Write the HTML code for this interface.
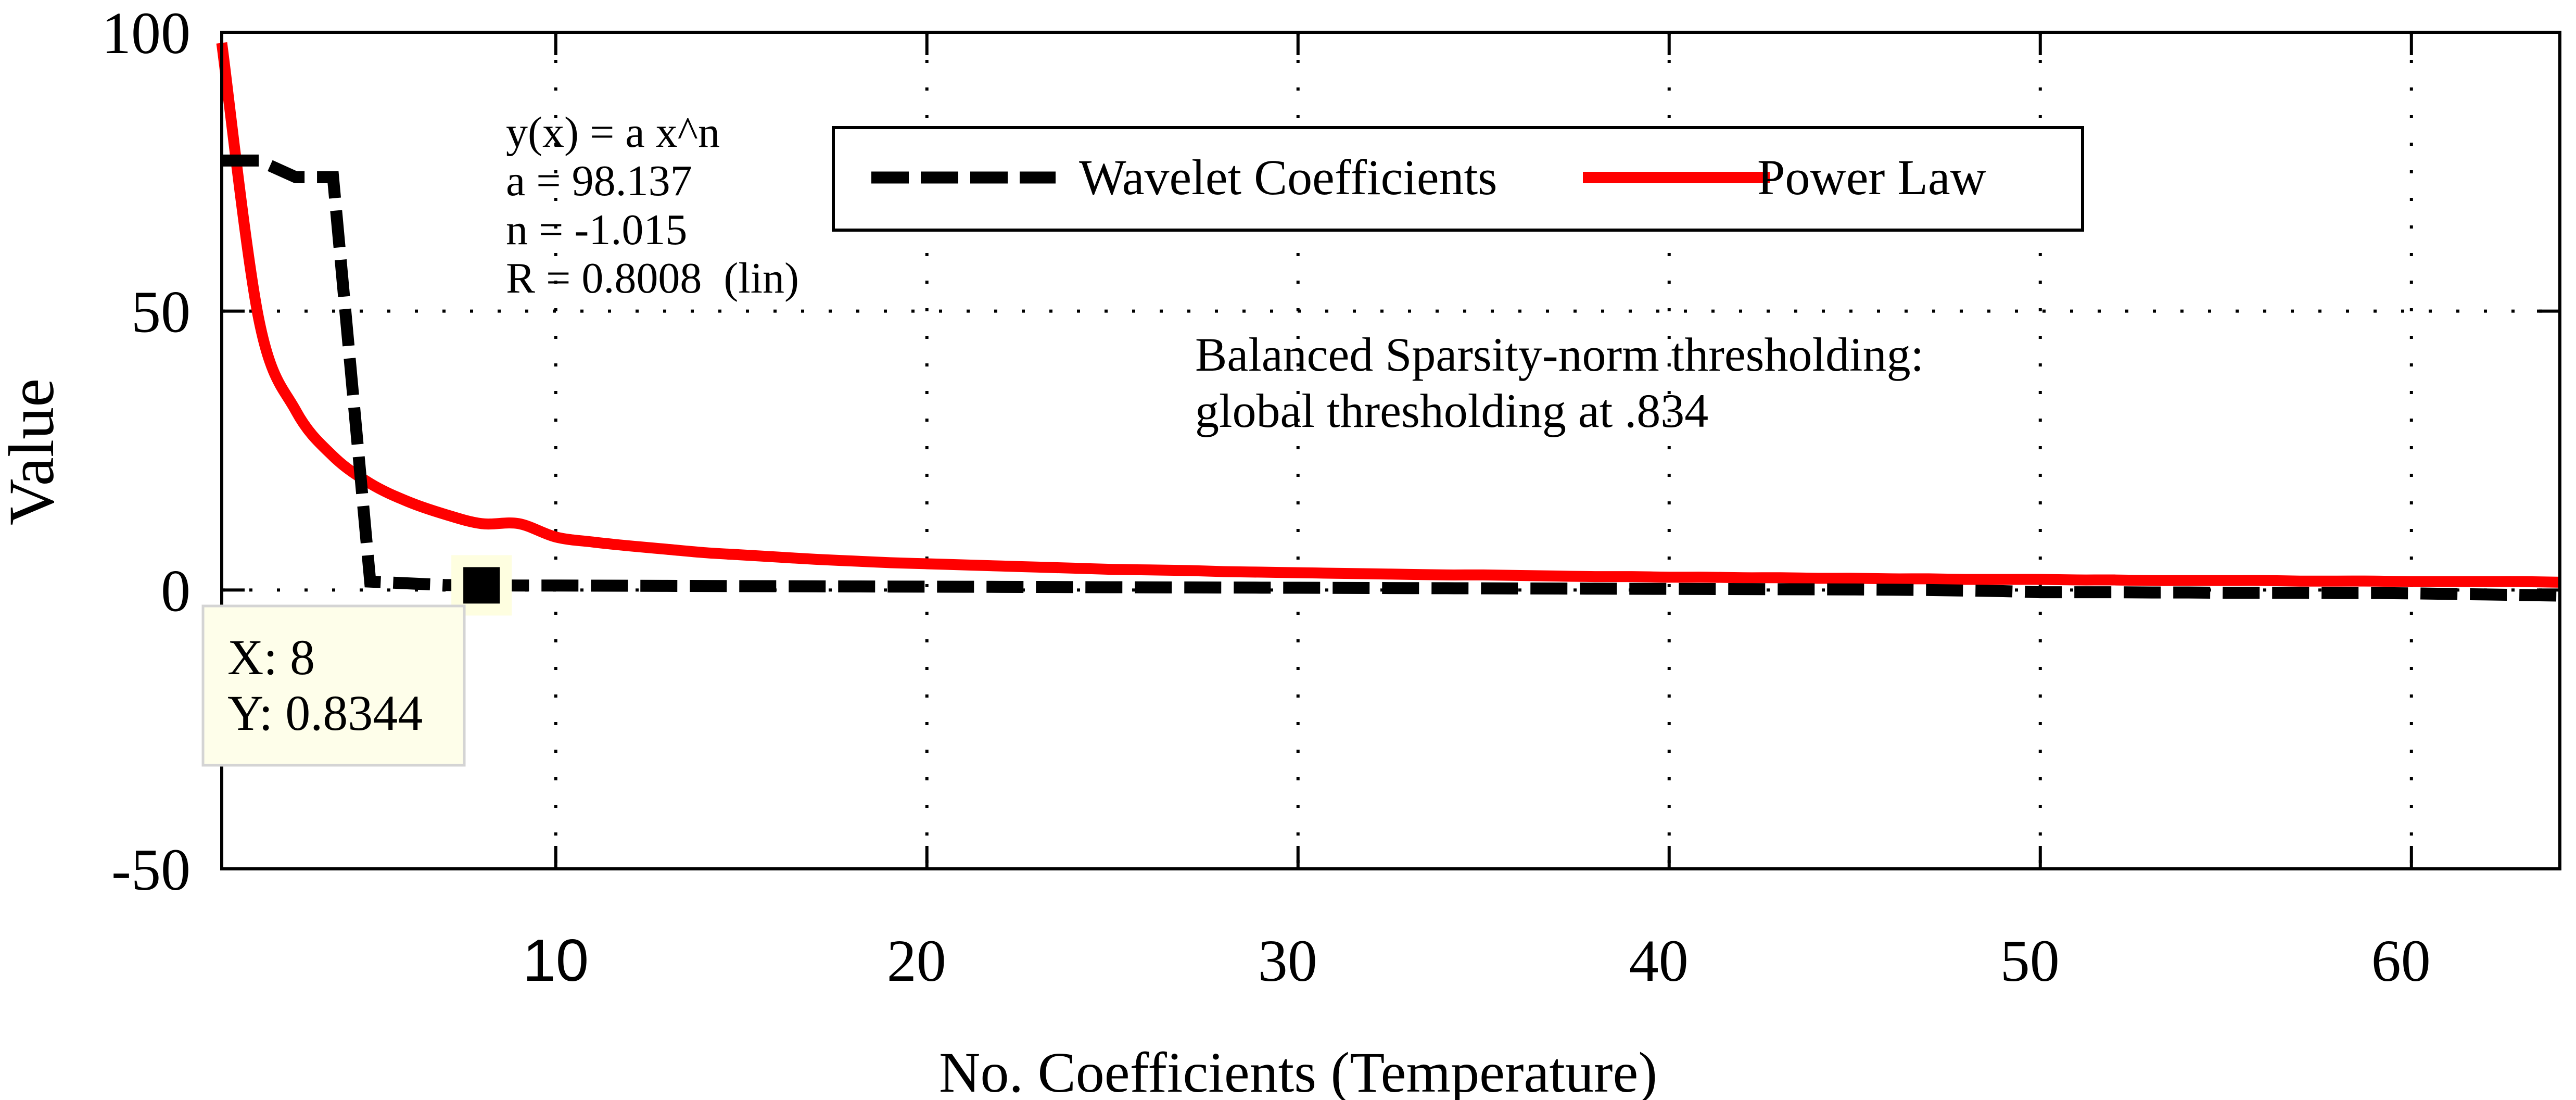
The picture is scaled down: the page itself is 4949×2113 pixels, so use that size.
<!DOCTYPE html>
<html><head><meta charset="utf-8"><style>
html,body{margin:0;padding:0;background:#fff;}
svg{display:block;}
text{font-family:"Liberation Serif",serif;fill:#000;white-space:pre;}
</style></head><body>
<svg id="chart" width="4949" height="2113" viewBox="0 0 4949 2113" xmlns="http://www.w3.org/2000/svg" xml:space="preserve">
<rect x="0" y="0" width="4949" height="2113" fill="#fff"/>
<g id="grid"></g>
<g id="series"></g>
<g id="axes"></g>
<text x="2494" y="2097" font-size="110" text-anchor="middle">No. Coefficients (Temperature)</text>
<text transform="translate(102,868) rotate(-90)" font-size="124" text-anchor="middle">Value</text>
<g font-size="84">
<text x="972" y="282">y(x) = a x^n</text>
<text x="972" y="375">a = 98.137</text>
<text x="972" y="469">n = -1.015</text>
<text x="972" y="562">R = 0.8008  (lin)</text>
</g>
<g font-size="92">
<text x="2296" y="712">Balanced Sparsity-norm thresholding:</text>
<text x="2296" y="820">global thresholding at .834</text>
</g>
<g>
<rect x="1601" y="245" width="2400" height="197" fill="#fff" stroke="#000" stroke-width="6"/>
<line x1="1674" y1="341" x2="2028" y2="341" stroke="#000" stroke-width="23" stroke-dasharray="72 23"/>
<text x="2073" y="373" font-size="96">Wavelet Coefficients</text>
<line x1="3041" y1="341" x2="3400" y2="341" stroke="#f00" stroke-width="22"/>
<text x="3376" y="373" font-size="96">Power Law</text>
</g>
<g id="tip">
<rect x="390" y="1164" width="502" height="306" fill="#fefeea" stroke="#d4d4d4" stroke-width="5"/>
<text x="437" y="1295" font-size="96">X: 8</text>
<text x="437" y="1402" font-size="96">Y: 0.8344</text>
</g>
</svg>
<script>
const xs = [1,2,3,4,5,6,7,8,9,10,11,12,13,14,15,16,17,18,19,20,21,22,23,24,25,26,27,28,29,30,31,32,33,34,35,36,37,38,39,40,41,42,43,44,45,46,47,48,49,50,51,52,53,54,55,56,57,58,59,60,61,62,63,64];
const wavelet = [77,77,74,74,1.5,1.2,0.9,0.83,0.8,0.8,0.78,0.76,0.74,0.72,0.7,0.68,0.66,0.64,0.62,0.6,0.58,0.56,0.54,0.52,0.5,0.48,0.46,0.44,0.42,0.4,0.38,0.36,0.34,0.32,0.3,0.28,0.26,0.24,0.22,0.2,0.18,0.16,0.14,0.12,0.1,0.05,0,-0.1,-0.2,-0.4,-0.4,-0.4,-0.45,-0.45,-0.5,-0.5,-0.5,-0.55,-0.55,-0.6,-0.7,-0.8,-0.9,-1.0];
const powerLaw = [98.1,48.5,32.1,24.0,19.1,15.9,13.6,11.9,11.9,9.5,8.6,7.9,7.3,6.7,6.3,5.9,5.5,5.2,4.9,4.7,4.5,4.3,4.1,3.9,3.7,3.6,3.5,3.3,3.2,3.1,3.0,2.9,2.8,2.7,2.7,2.6,2.5,2.4,2.4,2.3,2.3,2.2,2.2,2.1,2.1,2.0,2.0,1.9,1.9,1.9,1.8,1.8,1.7,1.7,1.7,1.7,1.6,1.6,1.6,1.5,1.5,1.5,1.5,1.4];
const xTicks = [10,20,30,40,50,60];
const yTicks = [-50,0,50,100];
const tipPoint = [8, 0.8344];

const NS = "http://www.w3.org/2000/svg";
const L = 426, R = 4918, T = 62, B = 1669;
const xMin = 1, xMax = 64, yMin = -50, yMax = 100;
function sx(v){ return L + (v - xMin) / (xMax - xMin) * (R - L); }
function sy(v){ return B - (v - yMin) / (yMax - yMin) * (B - T); }
function mk(tag, attrs, parent){ const e = document.createElementNS(NS, tag); for (const k in attrs) e.setAttribute(k, attrs[k]); parent.appendChild(e); return e; }

const grid = document.getElementById('grid');
const axes = document.getElementById('axes');
const series = document.getElementById('series');

xTicks.forEach(t => {
  const g = mk('line', {x1: sx(t), x2: sx(t), y1: T, y2: B, stroke: '#000', 'stroke-width': 6, 'stroke-dasharray': '6 47'}, grid);
  
  
  const tk1 = mk('line', {x1: sx(t), x2: sx(t), y1: B, y2: B - 44, stroke: '#000', 'stroke-width': 6}, axes);
  
  
  const tk2 = mk('line', {x1: sx(t), x2: sx(t), y1: T, y2: T + 44, stroke: '#000', 'stroke-width': 6}, axes);
  
  
  const lb = mk('text', {x: sx(t) - (t === 10 ? 0 : 20), y: 1884, 'font-size': 114, 'text-anchor': 'middle'}, axes);
  if (t === 10) lb.setAttribute('style', 'font-family:"Liberation Sans",sans-serif');
  lb.textContent = t;
  
  
});
yTicks.forEach(t => {
  if (t > yMin && t < yMax) {
    const g = mk('line', {x1: L, x2: R, y1: sy(t), y2: sy(t), stroke: '#000', 'stroke-width': 6, 'stroke-dasharray': '6 47'}, grid);
    
    
  }
  const tk1 = mk('line', {x1: L, x2: L + 44, y1: sy(t), y2: sy(t), stroke: '#000', 'stroke-width': 6}, axes);
  
  
  const tk2 = mk('line', {x1: R, x2: R - 44, y1: sy(t), y2: sy(t), stroke: '#000', 'stroke-width': 6}, axes);
  
  
  const lb = mk('text', {x: 366, y: sy(t) + 40, 'font-size': 114, 'text-anchor': 'end'}, axes);
  lb.textContent = t;
  
  
});
const frame = mk('rect', {x: L, y: T, width: R - L, height: B - T, fill: 'none', stroke: '#000', 'stroke-width': 6}, axes);



// smooth Catmull-Rom path through the data points
function smoothPath(px, py){
  let d = 'M' + px[0] + ',' + py[0];
  for (let i = 0; i < px.length - 1; i++) {
    const i0 = Math.max(0, i - 1), i3 = Math.min(px.length - 1, i + 2);
    const c1x = px[i] + (px[i+1] - px[i0]) / 6, c1y = py[i] + (py[i+1] - py[i0]) / 6;
    const c2x = px[i+1] - (px[i3] - px[i]) / 6, c2y = py[i+1] - (py[i3] - py[i]) / 6;
    d += ' C' + c1x + ',' + c1y + ' ' + c2x + ',' + c2y + ' ' + px[i+1] + ',' + py[i+1];
  }
  return d;
}
const pl = mk('path', {d: smoothPath(xs.map(sx), powerLaw.map(sy)), fill: 'none', stroke: '#f00', 'stroke-width': 21, 'stroke-linejoin': 'round'}, series);


const wl = mk('polyline', {points: xs.map((x, i) => sx(x) + ',' + sy(wavelet[i])).join(' '), fill: 'none', stroke: '#000', 'stroke-width': 23, 'stroke-dasharray': '71 24'}, series);



const mx = sx(tipPoint[0]), my = sy(tipPoint[1]);
const halo = mk('rect', {x: mx - 58, y: my - 58, width: 116, height: 116, fill: '#fefee0'}, series);


const mark = mk('rect', {x: mx - 35, y: my - 35, width: 70, height: 70, fill: '#000'}, series);


</script>
</body></html>
